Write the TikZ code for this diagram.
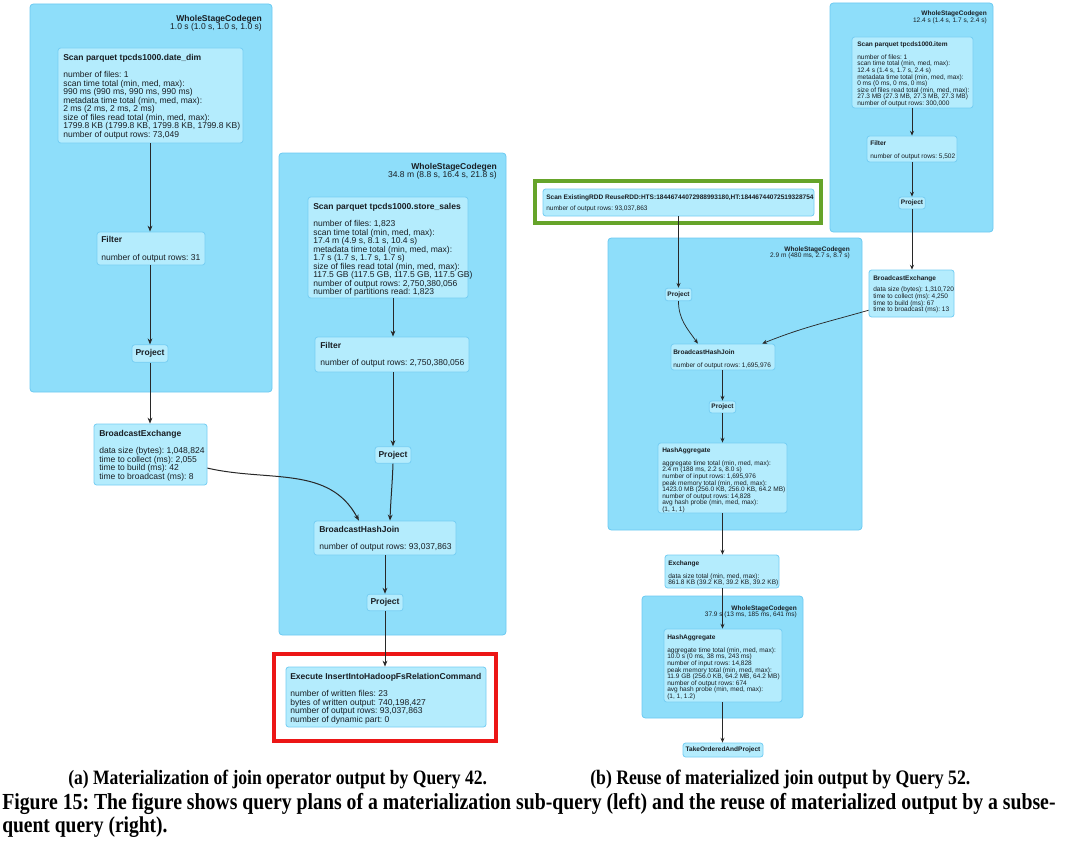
\documentclass[tikz,border=0pt]{standalone}
\usepackage{fontspec}
\usepackage{graphicx}
\setmainfont{Liberation Sans}
\newfontfamily\capserif[FakeStretch=0.86]{Liberation Serif}
\usetikzlibrary{arrows.meta,fit,calc}
\frenchspacing
\definecolor{wscgF}{RGB}{142,222,250}
\definecolor{wscgB}{RGB}{108,202,242}
\definecolor{opF}{RGB}{180,236,253}
\definecolor{opB}{RGB}{118,206,243}
\definecolor{txtC}{RGB}{25,30,35}
\definecolor{lineC}{RGB}{40,40,40}
\definecolor{redF}{RGB}{236,22,22}
\definecolor{greenF}{RGB}{102,164,42}
\tikzset{
  wscg/.style={draw=wscgB, fill=wscgF, line width=0.6pt, rounded corners=2.5pt, inner sep=0pt},
  opbox/.style={draw=opB, fill=opF, line width=0.6pt, rounded corners=2pt, inner sep=0pt},
  Ltxt/.style={inner sep=0pt, align=left, text=txtC, font=\fontsize{6.4pt}{6.4pt}\selectfont},
  Rtxt/.style={inner sep=0pt, align=left, text=txtC, font=\fontsize{4.9pt}{4.95pt}\selectfont},
  Lhead/.style={inner sep=0pt, align=right, text=txtC, font=\fontsize{6.4pt}{6pt}\selectfont},
  Rhead/.style={inner sep=0pt, align=right, text=txtC, font=\fontsize{4.9pt}{4.9pt}\selectfont},
  Lproj/.style={opbox, text=txtC, font=\fontsize{6.4pt}{6.4pt}\selectfont\bfseries, minimum width=27pt, minimum height=13pt},
  Rproj/.style={opbox, text=txtC, font=\fontsize{4.9pt}{4.9pt}\selectfont\bfseries, minimum width=20pt, minimum height=9.5pt},
  Lconn/.style={draw=lineC, line width=0.75pt, -{Stealth[length=4.5pt,width=3.6pt]}},
  Rconn/.style={draw=lineC, line width=0.55pt, -{Stealth[length=3.6pt,width=3pt]}},
  capt/.style={inner sep=0pt, text=black, font=\capserif\bfseries\fontsize{13pt}{15pt}\selectfont},
}
\begin{document}
\begin{tikzpicture}[x=0.75pt,y=-0.75pt]
\fill[white] (0,0) rectangle (1068,849);
\useasboundingbox (0,0) rectangle (1068,849);

% ---------------- left plan ----------------
\node[wscg, fit={(30,4) (272,392)}] (w1) {};
\node[Lhead, anchor=north east] (w1t) at (262,15) {\textbf{WholeStageCodegen}\\1.0 s (1.0 s, 1.0 s, 1.0 s)};
\node[wscg, fit={(279,153) (506,635)}] (w2) {};
\node[Lhead, anchor=north east] (w2t) at (497,163) {\textbf{WholeStageCodegen}\\34.8 m (8.8 s, 16.4 s, 21.8 s)};

\node[opbox, fit={(58,48) (243,143)}] (ss1) {};
\node[Ltxt, anchor=north west] (ss1t) at (63,54) {\textbf{Scan parquet tpcds1000.date\_dim}\\[6.4pt]
number of files: 1\\
scan time total (min, med, max):\\
990 ms (990 ms, 990 ms, 990 ms)\\
metadata time total (min, med, max):\\
2 ms (2 ms, 2 ms, 2 ms)\\
size of files read total (min, med, max):\\
1799.8 KB (1799.8 KB, 1799.8 KB, 1799.8 KB)\\
number of output rows: 73,049};

\node[opbox, fit={(97,232) (205,265)}] (f1) {};
\node[Ltxt, anchor=north west] (f1t) at (101,236) {\textbf{Filter}\\[6.9pt]number of output rows: 31};

\node[Lproj] (p1) at (150,353.5) {Project};

\node[opbox, fit={(94,424) (207,485)}] (be1) {};
\node[Ltxt, anchor=north west] (be1t) at (99,430) {\textbf{BroadcastExchange}\\[6.4pt]
data size (bytes): 1,048,824\\
time to collect (ms): 2,055\\
time to build (ms): 42\\
time to broadcast (ms): 8};

\node[opbox, fit={(308,197) (468,298)}] (ss2) {};
\node[Ltxt, anchor=north west] (ss2t) at (313,203) {\textbf{Scan parquet tpcds1000.store\_sales}\\[6.4pt]
number of files: 1,823\\
scan time total (min, med, max):\\
17.4 m (4.9 s, 8.1 s, 10.4 s)\\
metadata time total (min, med, max):\\
1.7 s (1.7 s, 1.7 s, 1.7 s)\\
size of files read total (min, med, max):\\
117.5 GB (117.5 GB, 117.5 GB, 117.5 GB)\\
number of output rows: 2,750,380,056\\
number of partitions read: 1,823};

\node[opbox, fit={(315,337) (469,372)}] (f2) {};
\node[Ltxt, anchor=north west] (f2t) at (320,342) {\textbf{Filter}\\[6.4pt]number of output rows: 2,750,380,056};

\node[Lproj, minimum height=12.5pt] (p2) at (393,455) {Project};

\node[opbox, fit={(314,521) (456,555)}] (bhj1) {};
\node[Ltxt, anchor=north west] (bhj1t) at (319,526) {\textbf{BroadcastHashJoin}\\[6.4pt]number of output rows: 93,037,863};

\node[Lproj, minimum height=12.5pt] (p3) at (385,602.5) {Project};

\draw[redF, line width=3pt] (274,654) rectangle (496,741);
\node[opbox, fit={(286,667) (486,727)}] (ex) {};
\node[Ltxt, anchor=north west] (ext) at (290,673) {\textbf{Execute InsertIntoHadoopFsRelationCommand}\\[6.4pt]
number of written files: 23\\
bytes of written output: 740,198,427\\
number of output rows: 93,037,863\\
number of dynamic part: 0};

% ---------------- right plan ----------------
\node[wscg, fit={(830,3) (993,232)}] (wi) {};
\node[Rhead, anchor=north east] (wit) at (987,11) {\textbf{WholeStageCodegen}\\12.4 s (1.4 s, 1.7 s, 2.4 s)};
\node[wscg, fit={(608,238) (862,530)}] (w3) {};
\node[Rhead, anchor=north east] (w3t) at (850,246) {\textbf{WholeStageCodegen}\\2.9 m (480 ms, 2.7 s, 8.7 s)};
\node[wscg, fit={(642,596) (803,718)}] (w4) {};
\node[Rhead, anchor=north east] (w4t) at (797,605) {\textbf{WholeStageCodegen}\\37.9 s (13 ms, 185 ms, 641 ms)};

\node[opbox, fit={(852,37) (973,108)}] (ssi) {};
\node[Rtxt, anchor=north west] (ssit) at (857,41) {\textbf{Scan parquet tpcds1000.item}\\[5pt]
number of files: 1\\
scan time total (min, med, max):\\
12.4 s (1.4 s, 1.7 s, 2.4 s)\\
metadata time total (min, med, max):\\
0 ms (0 ms, 0 ms, 0 ms)\\
size of files read total (min, med, max):\\
27.3 MB (27.3 MB, 27.3 MB, 27.3 MB)\\
number of output rows: 300,000};

\node[opbox, fit={(867,136) (957,162)}] (f3) {};
\node[Rtxt, anchor=north west] (f3t) at (870,140) {\textbf{Filter}\\[5pt]number of output rows: 5,502};

\node[Rproj, minimum height=9pt] (p4) at (912,203) {Project};

\node[opbox, fit={(869,270) (954,317)}] (be2) {};
\node[Rtxt, anchor=north west] (be2t) at (873,275) {\textbf{BroadcastExchange}\\[4pt]
data size (bytes): 1,310,720\\
time to collect (ms): 4,250\\
time to build (ms): 67\\
time to broadcast (ms): 13};

\draw[greenF, line width=3pt] (535,181) rectangle (821,223);
\node[opbox, fit={(543,189) (814,216)}] (rdd) {};
\node[Rtxt, anchor=north west] (rddt) at (546,194) {\textbf{Scan ExistingRDD ReuseRDD:HTS:18446744072988993180,HT:18446744072519328754}\\[4pt]
number of output rows: 93,037,863};

\node[Rproj] (p5) at (678.5,294.5) {Project};

\node[opbox, fit={(671,344) (775,370)}] (bhj2) {};
\node[Rtxt, anchor=north west] (bhj2t) at (673,349) {\textbf{BroadcastHashJoin}\\[5pt]number of output rows: 1,695,976};

\node[Rproj, minimum height=9pt] (p6) at (722.5,407) {Project};

\node[opbox, fit={(658,443) (787,513)}] (ha1) {};
\node[Rtxt, anchor=north west] (ha1t) at (662,447) {\textbf{HashAggregate}\\[5pt]
aggregate time total (min, med, max):\\
2.4 m (188 ms, 2.2 s, 8.0 s)\\
number of input rows: 1,695,976\\
peak memory total (min, med, max):\\
1423.0 MB (256.0 KB, 256.0 KB, 64.2 MB)\\
number of output rows: 14,828\\
avg hash probe (min, med, max):\\
(1, 1, 1)};

\node[opbox, fit={(665,555) (779,588)}] (exch) {};
\node[Rtxt, anchor=north west] (excht) at (668,560) {\textbf{Exchange}\\[5pt]
data size total (min, med, max):\\
861.8 KB (39.2 KB, 39.2 KB, 39.2 KB)};

\node[opbox, fit={(664,629) (782,702)}] (ha2) {};
\node[Rtxt, anchor=north west] (ha2t) at (667,634) {\textbf{HashAggregate}\\[5pt]
aggregate time total (min, med, max):\\
10.0 s (0 ms, 38 ms, 243 ms)\\
number of input rows: 14,828\\
peak memory total (min, med, max):\\
11.9 GB (256.0 KB, 64.2 MB, 64.2 MB)\\
number of output rows: 674\\
avg hash probe (min, med, max):\\
(1, 1, 1.2)};

\node[Rproj, minimum width=60pt, minimum height=10.5pt] (top) at (723,750) {TakeOrderedAndProject};

% ---------------- connectors ----------------
\draw[Lconn] (ss1.south -| p1) -- (f1.north -| p1);
\draw[Lconn] (f1.south -| p1) -- (p1.north);
\draw[Lconn] (p1.south) -- (be1.north -| p1);
\draw[Lconn] ($(be1.north east)!0.72!(be1.south east)$) to[out=-13, in=118] ($(bhj1.north west)!0.317!(bhj1.north east)$);
\draw[Lconn] (ss2.south -| p2) -- (f2.north -| p2);
\draw[Lconn] (f2.south -| p2) -- (p2.north);
\draw[Lconn] (p2.south) to[out=-92, in=88] ($(bhj1.north west)!0.535!(bhj1.north east)$);
\draw[Lconn] (bhj1.south -| p3) -- (p3.north);
\draw[Lconn] (p3.south) -- (ex.north -| p3);

\draw[Rconn] (ssi.south -| p4) -- (f3.north -| p4);
\draw[Rconn] (f3.south -| p4) -- (p4.north);
\draw[Rconn] (p4.south) -- (be2.north -| p4);
\draw[Rconn] ($(be2.north west)!0.85!(be2.south west)$) to[out=196, in=22] ($(bhj2.north west)!0.875!(bhj2.north east)$);
\draw[Rconn] (rdd.south -| p5) -- (p5.north);
\draw[Rconn] (p5.south) to[out=-90, in=125] ($(bhj2.north west)!0.26!(bhj2.north east)$);
\draw[Rconn] (bhj2.south -| p6) -- (p6.north);
\draw[Rconn] (p6.south) -- (ha1.north -| p6);
\draw[Rconn] (ha1.south -| p6) -- (exch.north -| p6);
\draw[Rconn] (exch.south -| p6) -- (ha2.north -| p6);
\draw[Rconn] (ha2.south -| p6) -- (top.north -| p6);

% ---------------- captions ----------------
\node[capt, anchor=base west] (capa) at (68,784) {\resizebox{314pt}{!}{(a) Materialization of join operator output by Query 42.}};
\node[capt, anchor=base west] (capb) at (590,784) {\resizebox{285pt}{!}{(b) Reuse of materialized join output by Query 52.}};
\node[capt, anchor=base west] (fig1) at (2,809) {\resizebox{790pt}{!}{Figure 15: The figure shows query plans of a materialization sub-query (left) and the reuse of materialized output by a subse-}};
\node[capt, anchor=base west] (fig2) at (2,832) {\resizebox{124pt}{!}{quent query (right).}};
\end{tikzpicture}
\end{document}
